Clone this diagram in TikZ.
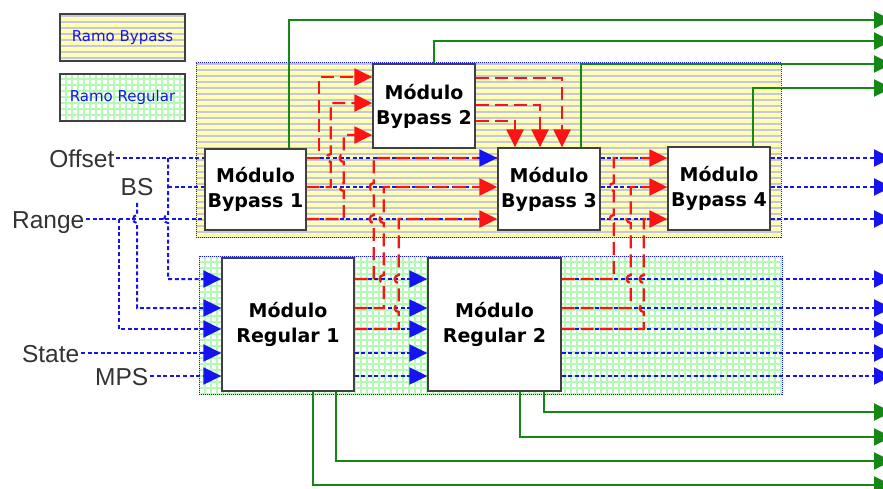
\documentclass[tikz,border=0pt]{standalone}
\usepackage{fontspec}
\setmainfont{DejaVu Sans}
\newfontfamily\lblfont{Liberation Sans}
\usepackage{tikz}
\usetikzlibrary{arrows.meta,positioning,calc}
\definecolor{bypyel}{RGB}{255,255,180}
\definecolor{bypln}{RGB}{198,198,225}
\definecolor{reggrid}{RGB}{180,250,180}
\definecolor{wireblue}{RGB}{20,20,240}
\definecolor{wirered}{RGB}{250,20,20}
\definecolor{wiregreen}{RGB}{20,135,20}
\tikzset{
  modbox/.style   ={draw=black!75,fill=white,line width=1.3pt,align=center,
                    font=\fontsize{19}{25}\selectfont\bfseries,inner sep=0pt},
  inlbl/.style    ={font=\lblfont\fontsize{24.5}{26}\selectfont,text=black!80,inner sep=1.5pt},
  hatchy/.style   ={fill=bypyel,path picture={
                      \foreach \k in {0,...,35}
                        \draw[bypln,solid,line width=1.3pt]
                          ([yshift=-\k*6pt-2pt]path picture bounding box.north west) --
                          ([yshift=-\k*6pt-2pt]path picture bounding box.north east);}},
  gridg/.style    ={fill=white,path picture={
                      \foreach \k in {0,...,100}
                        \draw[reggrid,solid,line width=1.6pt]
                          ([xshift=\k*6pt]path picture bounding box.south west) --
                          ([xshift=\k*6pt]path picture bounding box.north west);
                      \foreach \k in {0,...,25}
                        \draw[reggrid,solid,line width=1.6pt]
                          ([yshift=\k*6pt]path picture bounding box.south west) --
                          ([yshift=\k*6pt]path picture bounding box.south east);}},
  zone/.style     ={draw=wireblue,line width=0.9pt,dash pattern=on 1pt off 1pt},
  legbox/.style   ={draw=black!75,line width=1.5pt,font=\fontsize{15}{17}\selectfont,
                    text=wireblue,minimum width=125pt,minimum height=47pt},
  bwire/.style    ={wireblue,line width=2pt,dash pattern=on 4pt off 2.6pt},
  rwire/.style    ={wirered,line width=2.3pt,dash pattern=on 13pt off 6pt},
  gwire/.style    ={wiregreen,line width=2pt},
  tri/.style      ={-{Triangle[length=18pt,width=17pt]}},
}
\begin{document}
\begin{tikzpicture}[x=1pt,y=-1pt]
\useasboundingbox (0,0) rectangle (883,488);

% --- legend ----------------------------------------------------------------
\node[legbox,hatchy] (legbyp) at (122.5,37.5) {Ramo Bypass};
\node[legbox,gridg]  (legreg) at (122.5,97.5) {Ramo Regular};

% --- branch areas ----------------------------------------------------------
\node[zone,hatchy,minimum width=585pt,minimum height=175pt] (bypzone) at (488.5,149.5) {};
\node[zone,gridg,minimum width=583pt,minimum height=138pt]  (regzone) at (490.5,325) {};

% --- rows ------------------------------------------------------------------
\coordinate (bA) at (0,158);
\coordinate (bB) at (0,187);
\coordinate (bC) at (0,219);
\coordinate (gA) at (0,279);
\coordinate (gB) at (0,308);
\coordinate (gC) at (0,329);
\coordinate (gD) at (0,353);
\coordinate (gE) at (0,376);
\coordinate (edge) at (892,0);

% --- modules ---------------------------------------------------------------
\node[modbox,minimum width=101pt,minimum height=81pt]  (byp1) at (255.5,189.5) {Módulo\\Bypass 1};
\node[modbox,minimum width=102pt,minimum height=84pt]  (byp2) at (424,106)     {Módulo\\Bypass 2};
\node[modbox,minimum width=102pt,minimum height=82pt]  (byp3) at (549,189)     {Módulo\\Bypass 3};
\node[modbox,minimum width=102pt,minimum height=83pt]  (byp4) at (719,188.5)   {Módulo\\Bypass 4};
\node[modbox,minimum width=132pt,minimum height=133pt] (reg1) at (288,324.5)   {Módulo\\Regular 1};
\node[modbox,minimum width=133pt,minimum height=133pt] (reg2) at (494.5,324.5) {Módulo\\Regular 2};

% --- inputs ----------------------------------------------------------------
\node[inlbl,anchor=base east] (offset) at (116,167) {Offset};
\node[inlbl,anchor=base]      (bs)     at (137,195) {BS};
\node[inlbl,anchor=base east] (range)  at (86,228)  {Range};
\node[inlbl,anchor=base east] (state)  at (81,362)  {State};
\node[inlbl,anchor=base east] (mps)    at (150,385) {MPS};
\coordinate (offdrop) at (168,158);
\coordinate (rngdrop) at (119,219);

\draw[bwire] (offset.east |- bA) -- (byp1.west |- bA);
\draw[bwire] (offdrop |- bB) -- (byp1.west |- bB);
\draw[bwire] (range.east |- bC) -- (byp1.west |- bC);
\draw[bwire,tri] (offdrop) -- ++(0,57) arc[start angle=90,end angle=270,radius=4pt]
                 |- (reg1.west |- gA);
\draw[bwire,tri] ([yshift=-6pt]bs.south) -- (137,215) arc[start angle=90,end angle=270,radius=4pt]
                 |- (reg1.west |- gB);
\draw[bwire,tri] (rngdrop) |- (reg1.west |- gC);
\draw[bwire,tri] (state.east |- gD) -- (reg1.west |- gD);
\draw[bwire,tri] (mps.east |- gE) -- (reg1.west |- gE);

% --- blue data wires -------------------------------------------------------
\foreach \r in {bA,bB,bC} {
  \draw[bwire] (byp1.east |- \r) -- (byp3.west |- \r);
  \draw[bwire] (byp3.east |- \r) -- (byp4.west |- \r);
  \draw[bwire,tri] (byp4.east |- \r) -- (edge |- \r);
}
\foreach \r in {gA,gB,gC,gD,gE} {
  \draw[bwire,tri] (reg1.east |- \r) -- (reg2.west |- \r);
  \draw[bwire,tri] (reg2.east |- \r) -- (edge |- \r);
}

% --- red cross wires -------------------------------------------------------
\draw[rwire,tri] (byp1.east |- bA) -- ++(12,0) |- ([yshift=29pt]byp2.west);
\draw[rwire,tri] (byp1.east |- bB) -- ++(24,0) -- ++(0,-25)
                 arc[start angle=270,end angle=90,radius=4pt] |- ([yshift=3pt]byp2.west);
\draw[rwire,tri] (byp1.east |- bC) -- ++(37,0) -- ++(0,-28)
                 arc[start angle=270,end angle=90,radius=4pt] -- ++(0,-21)
                 arc[start angle=270,end angle=90,radius=4pt] |- ([yshift=-29pt]byp2.west);

\draw[rwire,tri] ([yshift=28pt]byp2.east)  -| ([xshift=13pt]byp3.north);
\draw[rwire,tri] ([yshift=1pt]byp2.east)   -| ([xshift=-9pt]byp3.north);
\draw[rwire,tri] ([yshift=-15pt]byp2.east) -| ([xshift=-34pt]byp3.north);

\draw[rwire]     (reg1.east |- gA) -- ++(19,0) -- ++(0,-56)
                 arc[start angle=270,end angle=90,radius=4pt] -- ++(0,-24)
                 arc[start angle=270,end angle=90,radius=4pt] |- (byp3.west |- bA);
\draw[rwire,tri] (reg1.east |- gB) -- ++(29,0) -- ++(0,-25)
                 arc[start angle=270,end angle=90,radius=4pt] -- ++(0,-52)
                 arc[start angle=270,end angle=90,radius=4pt] |- (byp3.west |- bB);
\draw[rwire,tri] (reg1.east |- gC) -- ++(44,0) -- ++(0,-17)
                 arc[start angle=270,end angle=90,radius=4pt] -- ++(0,-21)
                 arc[start angle=270,end angle=90,radius=4pt] |- (byp3.west |- bC);
\draw[rwire,tri] (reg2.east |- gA) -- ++(52,0) -- ++(0,-56)
                 arc[start angle=270,end angle=90,radius=4pt] -- ++(0,-24)
                 arc[start angle=270,end angle=90,radius=4pt] |- (byp4.west |- bA);
\draw[rwire,tri] (reg2.east |- gB) -- ++(69,0) -- ++(0,-25)
                 arc[start angle=270,end angle=90,radius=4pt] -- ++(0,-52)
                 arc[start angle=270,end angle=90,radius=4pt] |- (byp4.west |- bB);
\draw[rwire,tri] (reg2.east |- gC) -- ++(82,0) -- ++(0,-17)
                 arc[start angle=270,end angle=90,radius=4pt] -- ++(0,-21)
                 arc[start angle=270,end angle=90,radius=4pt] |- (byp4.west |- bC);

\draw[bwire,tri] ([xshift=-20pt]byp3.west |- bA) -- (byp3.west |- bA);

% --- green outputs ---------------------------------------------------------
\draw[gwire,tri] ([xshift=33.5pt]byp1.north) |- (edge |- 0,20);
\draw[gwire,tri] ([xshift=10pt]byp2.north)   |- (edge |- 0,41);
\draw[gwire,tri] ([xshift=32pt]byp3.north)   |- (edge |- 0,64);
\draw[gwire,tri] ([xshift=34pt]byp4.north)   |- (edge |- 0,88);
\draw[gwire,tri] ([xshift=49.5pt]reg2.south) |- (edge |- 0,412);
\draw[gwire,tri] ([xshift=25.5pt]reg2.south) |- (edge |- 0,437);
\draw[gwire,tri] ([xshift=48pt]reg1.south)   |- (edge |- 0,461);
\draw[gwire,tri] ([xshift=25pt]reg1.south)   |- (edge |- 0,485);

\end{tikzpicture}
\end{document}
